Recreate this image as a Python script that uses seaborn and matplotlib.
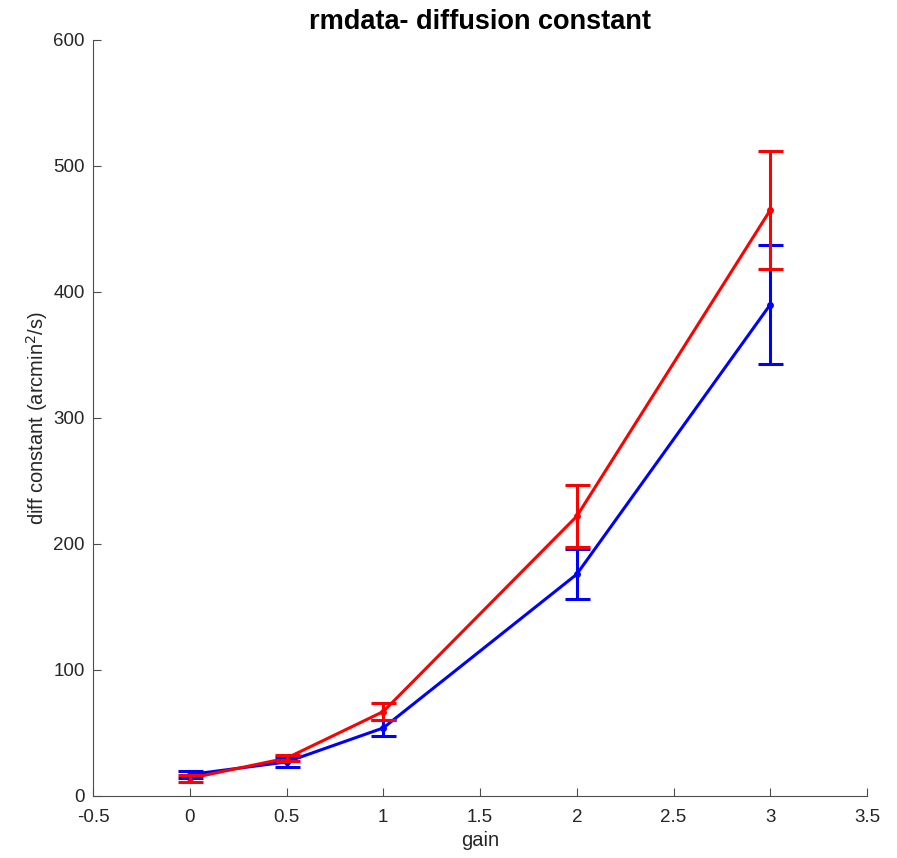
import numpy as np
import pandas as pd
import matplotlib
matplotlib.use("Agg")
import matplotlib.pyplot as plt
import seaborn as sns

gain = [0, 0.5, 1, 2, 3]
red_mean = [14, 30, 67, 222, 465]
red_err = [3, 2.5, 6.5, 24.5, 47]
blue_mean = [17, 27, 54, 176, 390]
blue_err = [2.5, 4, 6, 20, 47]

xticks = [-0.5, 0, 0.5, 1, 1.5, 2, 2.5, 3, 3.5]
xtick_labels = ["-0.5", "0", "0.5", "1", "1.5", "2", "2.5", "3", "3.5"]
yticks = [0, 100, 200, 300, 400, 500, 600]

sns.set_style("ticks")
plt.rcParams["font.family"] = ["Liberation Sans", "DejaVu Sans"]

df = pd.DataFrame({
    "gain": gain * 2,
    "value": blue_mean + red_mean,
    "series": ["blue"] * len(gain) + ["red"] * len(gain),
})

fig = plt.figure(figsize=(8.97, 8.58), dpi=100)
ax = fig.add_axes([93 / 897, 62 / 858, (867 - 93) / 897, (796 - 40) / 858])

palette = {"blue": (0, 0, 1), "red": (1, 0, 0)}
sns.lineplot(data=df, x="gain", y="value", hue="series", palette=palette,
             hue_order=["blue", "red"], marker="o", markersize=5,
             markeredgewidth=0, linewidth=2.2, legend=False, ax=ax)

for mean, err, col in [(blue_mean, blue_err, palette["blue"]),
                       (red_mean, red_err, palette["red"])]:
    ax.errorbar(gain, mean, yerr=err, fmt="none", ecolor=col,
                elinewidth=2.2, capsize=9, capthick=2.2, zorder=3)

ax.set_xlim(-0.5, 3.5)
ax.set_ylim(0, 600)
ax.set_xticks(xticks)
ax.set_xticklabels(xtick_labels)
ax.set_yticks(yticks)

axis_col = "#262626"
for side in ["left", "bottom"]:
    ax.spines[side].set_color("#4d4d4d")
    ax.spines[side].set_linewidth(0.8)
for side in ["top", "right"]:
    ax.spines[side].set_visible(False)
ax.tick_params(axis="both", direction="in", labelsize=13.5, colors="#4d4d4d",
               labelcolor=axis_col, length=6, width=0.8)
ax.tick_params(axis="x", pad=9)
ax.tick_params(axis="y", pad=6)

ax.set_xlabel("gain", fontsize=14.5, color=axis_col, labelpad=4)
ax.set_ylabel("diff constant (arcmin$^2$/s)", fontsize=14.5, color=axis_col, labelpad=2)
ax.set_title("rmdata- diffusion constant", fontsize=19.5, fontweight="bold",
             color="black", pad=8)

fig.savefig("out.png", dpi=100)
